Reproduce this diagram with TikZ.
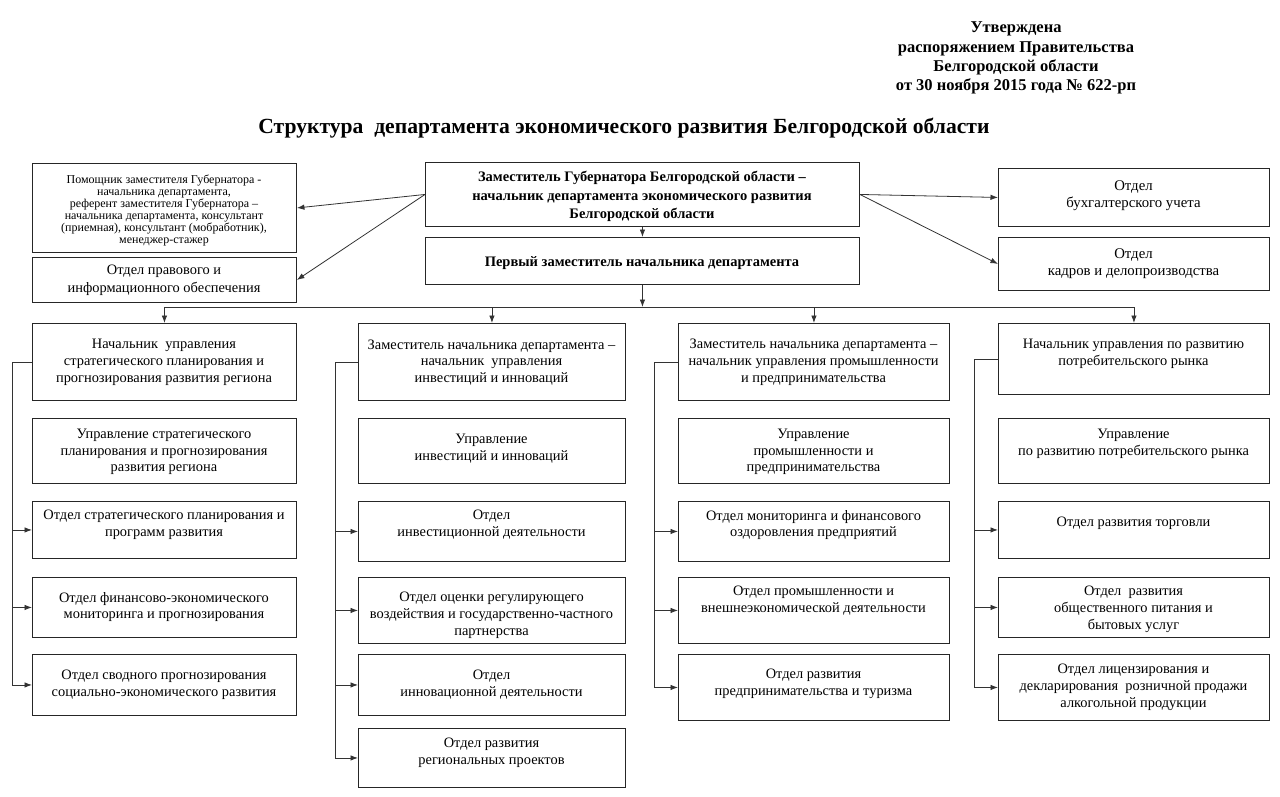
\documentclass[tikz,border=0pt]{standalone}
\usepackage{fontspec}
\setmainfont{Liberation Serif}
\usetikzlibrary{arrows.meta}
\tikzset{
  obx/.style={draw=black!85, line width=0.9pt, inner sep=0pt, anchor=north west},
  otx/.style={align=center, font=\fontsize{14.4}{16.8}\selectfont, inner sep=0pt, yshift=-3pt},
  smalltx/.style={font=\fontsize{12}{12}\selectfont},
  midtx/.style={font=\fontsize{14.4}{18.5}\selectfont},
  righttx/.style={font=\fontsize{14.8}{17}\selectfont},
  boldtx/.style={font=\bfseries\fontsize{14.5}{18.5}\selectfont},
  con/.style={draw=black!80, line width=0.8pt},
  arr/.style={con, -{Latex[length=7.5pt,width=5.5pt]}},
}
\newcommand{\obox}[8][]{%
  \node[obx, minimum width={#5-#3}, minimum height={#6-#4}] (#2) at (#3,#4) {};
  \node[otx,#1] (#2t) at ({(#3+#5)/2},#7) {#8};}
\begin{document}
\begin{tikzpicture}[x=1pt,y=-1pt]
\useasboundingbox (0,0) rectangle (1280,796);
\fill[white] (0,0) rectangle (1280,796);

\node[align=center, font=\bfseries\fontsize{16.5}{19.3}\selectfont, inner sep=0pt] (appr) at (1016,58)
  {Утверждена\\распоряжением Правительства\\Белгородской области\\от 30 ноября 2015 года № 622-рп};
\node[font=\bfseries\fontsize{21.6}{24}\selectfont, inner sep=0pt] (title) at (624,128)
  {Структура\ \ департамента экономического развития Белгородской области};

\obox[smalltx]{assist}{32}{163}{296}{252}{207}{Помощник заместителя Губернатора -\\начальника департамента,\\референт заместителя Губернатора –\\начальника департамента, консультант\\(приемная), консультант (мобработник),\\менеджер-стажер}
\obox[midtx]{legal}{32}{257}{296}{302}{277.5}{Отдел правового и\\информационного обеспечения}
\obox[boldtx]{top}{425}{162}{859}{226}{193.5}{Заместитель Губернатора Белгородской области –\\начальник департамента экономического развития\\Белгородской области}
\obox[boldtx]{first}{425}{237}{859}{284}{260.5}{Первый заместитель начальника департамента}
\obox[righttx]{buh}{998}{168}{1269}{226}{192.5}{Отдел\\бухгалтерского учета}
\obox[righttx]{kadr}{998}{237}{1269}{290}{260.5}{Отдел\\кадров и делопроизводства}

% column 1
\obox{c1h}{32}{323}{296}{400}{359.5}{Начальник\ \ управления\\стратегического планирования и\\прогнозирования развития региона}
\obox{c1b2}{32}{418}{296}{483}{449}{Управление стратегического\\планирования и прогнозирования\\развития региона}
\obox{c1b3}{32}{501}{296}{558}{522}{Отдел стратегического планирования и\\программ развития}
\obox{c1b4}{32}{577}{296}{637}{604}{Отдел финансово-экономического\\мониторинга и прогнозирования}
\obox{c1b5}{32}{654}{296}{715}{682}{Отдел сводного прогнозирования\\социально-экономического развития}
% column 2
\obox{c2h}{358}{323}{625}{400}{359.5}{Заместитель начальника департамента –\\начальник\ \ управления\\инвестиций и инноваций}
\obox{c2b2}{358}{418}{625}{483}{446}{Управление\\инвестиций и инноваций}
\obox{c2b3}{358}{501}{625}{561}{522}{Отдел\\инвестиционной деятельности}
\obox{c2b4}{358}{577}{625}{643}{612}{Отдел оценки регулирующего\\воздействия и государственно-частного\\партнерства}
\obox{c2b5}{358}{654}{625}{715}{682}{Отдел\\инновационной деятельности}
\obox{c2b6}{358}{728}{625}{787}{749.5}{Отдел развития\\региональных проектов}
% column 3
\obox{c3h}{678}{323}{949}{400}{359.5}{Заместитель начальника департамента –\\начальник управления промышленности\\и предпринимательства}
\obox{c3b2}{678}{418}{949}{483}{449}{Управление\\промышленности и\\предпринимательства}
\obox{c3b3}{678}{501}{949}{561}{522}{Отдел мониторинга и финансового\\оздоровления предприятий}
\obox{c3b4}{678}{577}{949}{643}{597.5}{Отдел промышленности и\\внешнеэкономической деятельности}
\obox{c3b5}{678}{654}{949}{720}{680.5}{Отдел развития\\предпринимательства и туризма}
% column 4
\obox{c4h}{998}{323}{1269}{394}{351}{Начальник управления по развитию\\потребительского рынка}
\obox{c4b2}{998}{418}{1269}{483}{440.5}{Управление\\по развитию потребительского рынка}
\obox{c4b3}{998}{501}{1269}{558}{520}{Отдел развития торговли}
\obox{c4b4}{998}{577}{1269}{637}{606}{Отдел\ \ развития\\общественного питания и\\бытовых услуг}
\obox{c4b5}{998}{654}{1269}{720}{684}{Отдел лицензирования и\\декларирования\ \ розничной продажи\\алкогольной продукции}

% top connectors
\draw[arr] (top.west) -- (assist.east);
\draw[arr] (top.west) -- (legal.east);
\draw[arr] (top.east) -- (buh.west);
\draw[arr] (top.east) -- (kadr.west);
\draw[arr] (top.south) -- (first.north);

% bus
\coordinate (bus) at (642,307);
\draw[arr] (first.south) -- (first.south |- bus);
\draw[con] (c1h.north |- bus) -- (c4h.north |- bus);
\foreach \c in {c1h,c2h,c3h,c4h} \draw[arr] (\c.north |- bus) -- (\c.north);

% brackets
\coordinate (x1) at (12,0);
\coordinate (x2) at (335,0);
\coordinate (x3) at (654,0);
\coordinate (x4) at (974,0);
\draw[con] (c1h.west) -| (x1 |- c1b5.west);
\draw[con] (c2h.west) -| (x2 |- c2b6.west);
\draw[con] (c3h.west) -| (x3 |- c3b5.west);
\draw[con] (c4h.west) -| (x4 |- c4b5.west);
\foreach \b in {c1b3,c1b4,c1b5} \draw[arr] (x1 |- \b.west) -- (\b.west);
\foreach \b in {c2b3,c2b4,c2b5,c2b6} \draw[arr] (x2 |- \b.west) -- (\b.west);
\foreach \b in {c3b3,c3b4,c3b5} \draw[arr] (x3 |- \b.west) -- (\b.west);
\foreach \b in {c4b3,c4b4,c4b5} \draw[arr] (x4 |- \b.west) -- (\b.west);
\end{tikzpicture}
\end{document}
